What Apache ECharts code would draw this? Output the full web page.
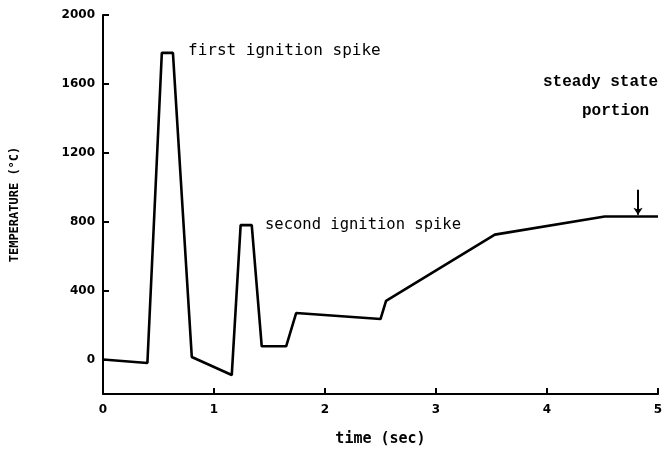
<!DOCTYPE html>
<html><head><meta charset="utf-8">
<script src="https://cdn.jsdelivr.net/npm/echarts@6/dist/echarts.min.js"></script>
<style>html,body{margin:0;padding:0;background:#fff}#c{width:669px;height:454px}</style>
</head><body><div id="c"></div>
<script>
// time (sec) and temperature (°C)
const timeSec = [0, 0.4, 0.53, 0.63, 0.8, 0.85, 1.16, 1.24, 1.34, 1.43, 1.65, 1.74, 2.5, 2.55, 3.53, 4.52, 5.0];
const tempC   = [0, -20, 1780, 1780, 15, 0, -90, 780, 780, 77, 77, 270, 235, 340, 725, 830, 830];
const yTicks = [0, 400, 800, 1200, 1600, 2000];
const xTicks = [0, 1, 2, 3, 4, 5];
const arrowFrom = [4.82, 985];
const arrowTo = [4.82, 840];

const chart = echarts.init(document.getElementById('c'));
const tickFont = {fontFamily: 'DejaVu Sans', fontWeight: 'bold', fontSize: 12, color: '#000', formatter: v => String(v)};
chart.setOption({
  animation: false,
  grid: {left: 103, right: 11, top: 15, bottom: 60},
  xAxis: {
    type: 'value', min: 0, max: 5, interval: 1,
    name: 'time (sec)', nameLocation: 'middle', nameGap: 38,
    nameTextStyle: {fontFamily: 'DejaVu Sans Mono', fontWeight: 'bold', fontSize: 15, color: '#000'},
    axisLine: {onZero: false, lineStyle: {color: '#000', width: 2}},
    axisTick: {inside: true, length: 6, lineStyle: {color: '#000', width: 2}, customValues: xTicks},
    axisLabel: Object.assign({margin: 10, customValues: xTicks}, tickFont),
    splitLine: {show: false}
  },
  yAxis: {
    type: 'value', min: -200, max: 2000, interval: 200,
    name: 'TEMPERATURE (°C)', nameLocation: 'middle', nameGap: 82, nameRotate: 90,
    nameTextStyle: {fontFamily: 'DejaVu Sans Mono', fontWeight: 'bold', fontSize: 12, color: '#000'},
    axisLine: {onZero: false, lineStyle: {color: '#000', width: 2}},
    axisTick: {inside: true, length: 6, lineStyle: {color: '#000', width: 2}, customValues: yTicks},
    axisLabel: Object.assign({margin: 8, customValues: yTicks}, tickFont),
    splitLine: {show: false}
  },
  series: [{
    type: 'line',
    data: timeSec.map((t, i) => [t, tempC[i]]),
    symbol: 'none',
    lineStyle: {color: '#000', width: 2.6},
    markLine: {
      silent: true,
      symbol: ['none', 'arrow'], symbolSize: 7,
      label: {show: false},
      lineStyle: {color: '#000', width: 2, type: 'solid'},
      data: [[{coord: arrowFrom}, {coord: arrowTo}]]
    }
  }],
  graphic: [
    {type: 'text', left: 188, top: 43, style: {text: 'first ignition spike', font: '16px "DejaVu Sans Mono"', fill: '#000'}},
    {type: 'text', left: 265, top: 217, style: {text: 'second ignition spike', font: '15.5px "DejaVu Sans Mono"', fill: '#000'}},
    {type: 'text', left: 543, top: 74, style: {text: 'steady state', font: 'bold 16px "Liberation Mono"', fill: '#000'}},
    {type: 'text', left: 582, top: 103, style: {text: 'portion', font: 'bold 16px "Liberation Mono"', fill: '#000'}}
  ]
});
</script></body></html>
